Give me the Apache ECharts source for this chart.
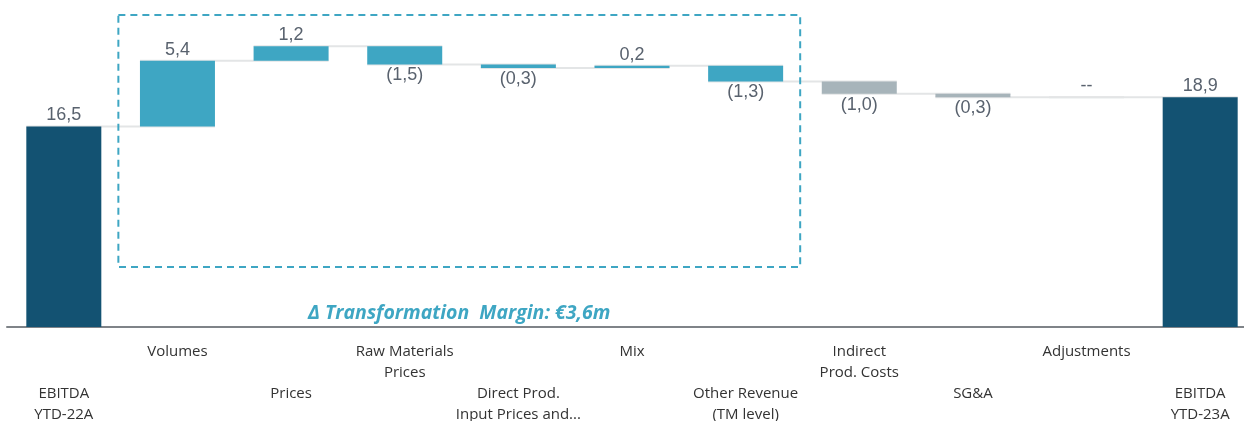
<!DOCTYPE html>
<html>
<head>
<meta charset="utf-8">
<script src="https://cdn.jsdelivr.net/npm/echarts@6/dist/echarts.min.js"></script>
<style>
  html, body { margin: 0; padding: 0; background: #fff; }
  #chart { width: 1244px; height: 421px; }
</style>
</head>
<body>
<div id="chart"></div>
<script>
var categories = ['EBITDA\nYTD-22A', 'Volumes', 'Prices', 'Raw Materials\nPrices',
    'Direct Prod.\nInput Prices and...', 'Mix', 'Other Revenue\n(TM level)',
    'Indirect\nProd. Costs', 'SG&A', 'Adjustments', 'EBITDA\nYTD-23A'];
// deltas (first and last are totals)
var values = [16.5, 5.4, 1.2, -1.5, -0.3, 0.2, -1.3, -1.0, -0.3, 0, 18.9];
var kinds = ['total', 'tm', 'tm', 'tm', 'tm', 'tm', 'tm', 'other', 'other', 'other', 'total'];
var tmLabel = '\u0394 Transformation  Margin: \u20ac3,6m';

var colors = { total: '#135272', tm: '#3ea6c3', other: '#a7b4ba' };

function fmt(v, kind) {
    if (kind !== 'total' && v === 0) return '--';
    var s = Math.abs(v).toFixed(1).replace('.', ',');
    return v < 0 ? '(' + s + ')' : s;
}

// build waterfall base / height / running level
var baseData = [], barData = [], levels = [];
var run = 0;
values.forEach(function (v, i) {
    var k = kinds[i];
    if (k === 'total') {
        baseData.push(0);
        barData.push({ value: v, itemStyle: { color: colors[k] },
            label: { position: 'top', formatter: fmt(v, k) } });
        run = v;
    } else {
        var lo = v < 0 ? run + v : run;
        baseData.push(lo);
        barData.push({ value: Math.abs(v), itemStyle: { color: colors[k] },
            label: { position: v < 0 ? 'bottom' : 'top', formatter: fmt(v, k) } });
        run = run + v;
    }
    levels.push(Math.round(run * 10) / 10);
});

var connectors = [];
for (var i = 0; i < levels.length - 1; i++) connectors.push([i, levels[i]]);

var chart = echarts.init(document.getElementById('chart'));

var option = {
    animation: false,
    grid: { left: 7, width: 1250, top: 11, bottom: 94, outerBoundsMode: 'none', containLabel: false },
    xAxis: {
        type: 'category',
        data: categories,
        axisLine: { lineStyle: { color: '#7f8388', width: 2 } },
        axisTick: { show: false },
        axisLabel: {
            interval: 0,
            margin: 14,
            fontFamily: 'Open Sans',
            fontSize: 15,
            color: '#333',
            lineHeight: 21,
            formatter: function (val, idx) {
                return idx % 2 === 0 ? '\n\n' + val : val;
            }
        }
    },
    yAxis: { type: 'value', min: 0, max: 26, show: false, splitLine: { show: false } },
    series: [
        {
            type: 'custom',
            z: 1,
            data: connectors,
            renderItem: function (params, api) {
                var i = api.value(0), lv = api.value(1);
                var half = api.size([1, 0])[0] * 0.33;
                var p1 = api.coord([i, lv]), p2 = api.coord([i + 1, lv]);
                return {
                    type: 'line',
                    shape: { x1: p1[0] - half, y1: p1[1], x2: p2[0] + half, y2: p2[1] },
                    style: { stroke: '#e3e5e6', lineWidth: 2 }
                };
            }
        },
        {
            type: 'bar',
            stack: 'wf',
            z: 2,
            data: baseData,
            itemStyle: { color: 'transparent' },
            emphasis: { disabled: true },
            silent: true
        },
        {
            type: 'bar',
            stack: 'wf',
            z: 3,
            barWidth: '66%',
            data: barData,
            label: {
                show: true,
                fontFamily: 'Liberation Sans',
                fontSize: 18,
                color: '#59626e',
                distance: 2
            }
        }
    ]
};

chart.setOption(option);

// dashed box around the transformation-margin items
var left = chart.convertToPixel({ xAxisIndex: 0 }, 1);
var right = chart.convertToPixel({ xAxisIndex: 0 }, 6);
var step = chart.convertToPixel({ xAxisIndex: 0 }, 2) - left;
var x0 = left - step * 0.52, x1 = right + step * 0.48;
var yTop = 15, yBot = 267;
chart.setOption({
    graphic: [
        {
            type: 'rect',
            shape: { x: x0, y: yTop, width: x1 - x0, height: yBot - yTop },
            style: { fill: 'none', stroke: '#3ea6c3', lineWidth: 2, lineDash: [7, 5] },
            z: 10
        },
        {
            type: 'text',
            x: (x0 + x1) / 2,
            y: 313,
            style: {
                text: tmLabel,
                fill: '#3ea6c3',
                font: 'italic bold 19.5px "Open Sans"',
                align: 'center',
                verticalAlign: 'middle'
            },
            z: 10
        }
    ]
});
</script>
</body>
</html>
